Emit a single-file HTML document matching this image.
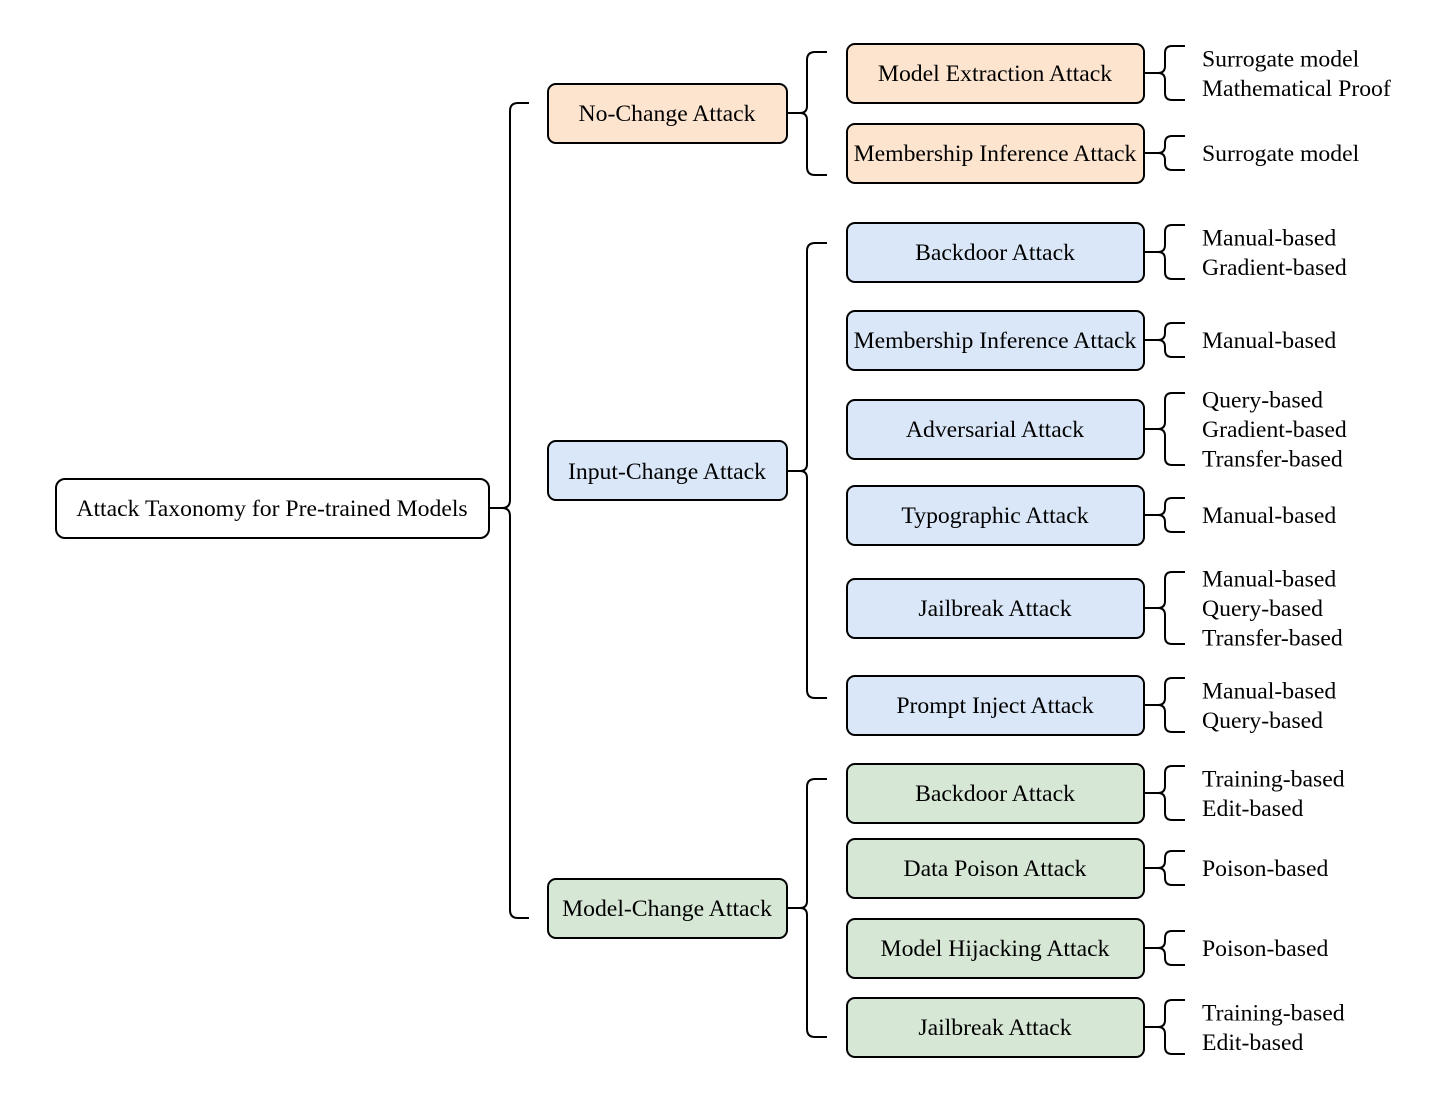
<!DOCTYPE html>
<html><head><meta charset="utf-8"><style>
body{margin:0;background:#fff}
svg{display:block}
text{font-family:"Liberation Serif",serif;font-size:23.7px;fill:#000}
</style></head><body>
<svg width="1455" height="1095" viewBox="0 0 1455 1095" xmlns="http://www.w3.org/2000/svg">
<g fill="none" stroke="#000" stroke-width="2">
<path d="M489 508 L502 508 Q510 508 510 500 L510 111 Q510 103 518 103 L529 103 M502 508 Q510 508 510 516 L510 910 Q510 918 518 918 L529 918"/>
<path d="M788 113 L800 113 Q807 113 807 106 L807 60 Q807 52 815 52 L827 52 M800 113 Q807 113 807 120 L807 167 Q807 175 815 175 L827 175"/>
<path d="M788 471 L800 471 Q807 471 807 464 L807 251 Q807 243 815 243 L827 243 M800 471 Q807 471 807 478 L807 690 Q807 698 815 698 L827 698"/>
<path d="M788 908 L800 908 Q807 908 807 901 L807 787 Q807 779 815 779 L827 779 M800 908 Q807 908 807 915 L807 1029 Q807 1037 815 1037 L827 1037"/>
</g>
<rect x="56" y="479" width="433" height="59" rx="9" fill="#fff" stroke="#000" stroke-width="2"/>
<text x="272" y="516" text-anchor="middle">Attack Taxonomy for Pre-trained Models</text>
<g stroke="#000" stroke-width="2">
<rect x="548" y="84" width="239" height="59" rx="8" fill="#fde4cf"/>
<rect x="548" y="441" width="239" height="59" rx="8" fill="#dae7f8"/>
<rect x="548" y="879" width="239" height="59" rx="8" fill="#d6e7d5"/>
</g>
<text x="667" y="121" text-anchor="middle">No-Change Attack</text>
<text x="667" y="479" text-anchor="middle">Input-Change Attack</text>
<text x="667" y="916" text-anchor="middle">Model-Change Attack</text>
<g id="l3"></g>
</svg>
<script>
var items=[
[73,"#fde4cf","Model Extraction Attack",["Surrogate model","Mathematical Proof"]],
[153,"#fde4cf","Membership Inference Attack",["Surrogate model"]],
[252,"#dae7f8","Backdoor Attack",["Manual-based","Gradient-based"]],
[340,"#dae7f8","Membership Inference Attack",["Manual-based"]],
[429,"#dae7f8","Adversarial Attack",["Query-based","Gradient-based","Transfer-based"]],
[515,"#dae7f8","Typographic Attack",["Manual-based"]],
[608,"#dae7f8","Jailbreak Attack",["Manual-based","Query-based","Transfer-based"]],
[705,"#dae7f8","Prompt Inject Attack",["Manual-based","Query-based"]],
[793,"#d6e7d5","Backdoor Attack",["Training-based","Edit-based"]],
[868,"#d6e7d5","Data Poison Attack",["Poison-based"]],
[948,"#d6e7d5","Model Hijacking Attack",["Poison-based"]],
[1027,"#d6e7d5","Jailbreak Attack",["Training-based","Edit-based"]]];
var g=document.getElementById("l3"),s="";
items.forEach(function(it){
var c=it[0],n=it[3].length,h=n==1?17:(n==2?27:36);
var t=c-h,b=c+h;
s+='<path fill="none" stroke="#000" stroke-width="2" d="M1145 '+c+' L1158 '+c+' Q1165 '+c+' 1165 '+(c-7)+' L1165 '+(t+7)+' Q1165 '+t+' 1172 '+t+' L1185 '+t+' M1158 '+c+' Q1165 '+c+' 1165 '+(c+7)+' L1165 '+(b-7)+' Q1165 '+b+' 1172 '+b+' L1185 '+b+'"/>';
s+='<rect x="847" y="'+(c-29)+'" width="297" height="59" rx="8" fill="'+it[1]+'" stroke="#000" stroke-width="2"/>';
s+='<text x="995" y="'+(c+8)+'" text-anchor="middle">'+it[2]+'</text>';
it[3].forEach(function(l,i){var y=c+(i-(n-1)/2)*29.5+8;s+='<text x="1202" y="'+y+'">'+l+'</text>';});
});
g.innerHTML=s;
</script>
</body></html>
